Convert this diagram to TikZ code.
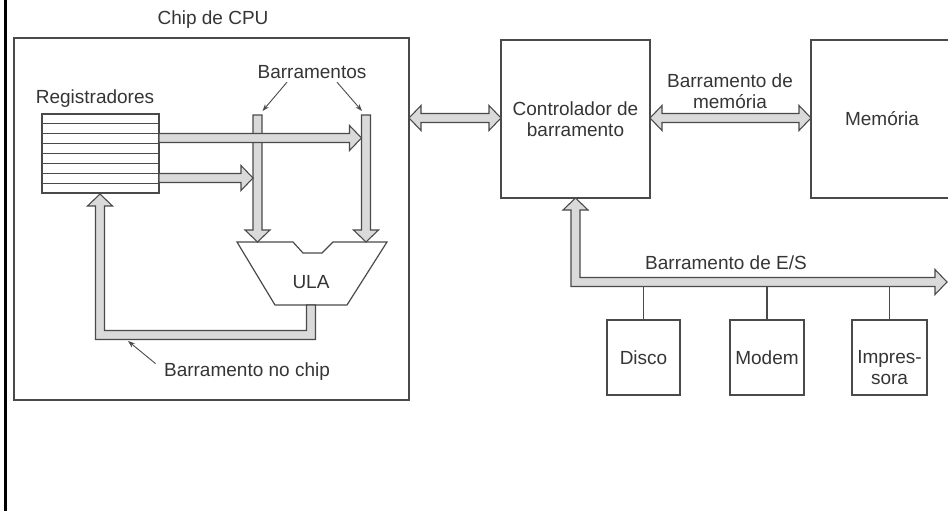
\documentclass[tikz,border=0pt]{standalone}
\usepackage{fontspec}
\setmainfont{Liberation Sans}
\usetikzlibrary{arrows.meta,calc}
\definecolor{ink}{HTML}{4A4A4A}
\definecolor{txt}{HTML}{353535}
\definecolor{busfill}{HTML}{DADADA}
\def\bsw{4.5pt}\def\bhw{12.5pt}\def\bhl{12pt}
% horizontal single arrow to the right (start #1, tip #2 at same height)
\newcommand\busR[2]{\filldraw[bus] let \p1=#1, \p2=#2 in
  (\x1,\y1+\bsw) -- (\x2-\bhl,\y1+\bsw) -- (\x2-\bhl,\y1+\bhw) -- (\x2,\y1)
  -- (\x2-\bhl,\y1-\bhw) -- (\x2-\bhl,\y1-\bsw) -- (\x1,\y1-\bsw) -- cycle;}
% vertical single arrow downwards (start #1, tip #2)
\newcommand\busD[2]{\filldraw[bus] let \p1=#1, \p2=#2 in
  (\x1-\bsw,\y1) -- (\x1-\bsw,\y2+\bhl) -- (\x1-\bhw,\y2+\bhl) -- (\x1,\y2)
  -- (\x1+\bhw,\y2+\bhl) -- (\x1+\bsw,\y2+\bhl) -- (\x1+\bsw,\y1) -- cycle;}
% horizontal double arrow (left tip #1, right tip #2)
\newcommand\busLR[2]{\filldraw[bus] let \p1=#1, \p2=#2 in
  (\x1,\y1) -- (\x1+\bhl,\y1+\bhw) -- (\x1+\bhl,\y1+\bsw) -- (\x2-\bhl,\y1+\bsw)
  -- (\x2-\bhl,\y1+\bhw) -- (\x2,\y1) -- (\x2-\bhl,\y1-\bhw) -- (\x2-\bhl,\y1-\bsw)
  -- (\x1+\bhl,\y1-\bsw) -- (\x1+\bhl,\y1-\bhw) -- cycle;}
\begin{document}
\begin{tikzpicture}[x=1pt,y=-1pt,
  every node/.style={font=\fontsize{19}{21}\selectfont, text=txt},
  box/.style={draw=ink, line width=1.2pt, inner sep=0pt, outer sep=0pt, anchor=north west, align=center},
  bus/.style={draw=ink, line width=1.1pt, fill=busfill, line join=miter},
  ptr/.style={draw=ink, line width=0.9pt, -{Stealth[length=7pt,width=5pt]}},
  wire/.style={draw=ink, line width=1.1pt},
  regline/.style={draw=ink, line width=1pt}]
\useasboundingbox (0,0) rectangle (948,511);
\fill[black] (4,0) rectangle (6.7,511);

% CPU chip
\node[box, minimum width=395pt, minimum height=362pt] (cpu) at (14,38) {};
\node (cpulab) at (213,20) {Chip de CPU};

% registers
\node[box, minimum width=117pt, minimum height=79pt] (reg) at (42,114) {};
\foreach \k in {1,...,7}
  \draw[regline] ($(reg.north west)+(0,\k*9.875)$) -- ($(reg.north east)+(0,\k*9.875)$);
\node (reglab) at (95,99) {Registradores};

% ULA
\filldraw[draw=ink, line width=1.2pt, fill=white]
  (237,242) -- (293,242) -- (303,253) -- (322,253) -- (333,242) -- (387,242)
  -- (347,305) -- (275,305) -- cycle;
\node (ula) at (311,282) {ULA};

% internal buses
\coordinate (busA) at (257.5,115);
\coordinate (busB) at (366,115);
\coordinate (ulaTop) at (311,242);
\busD{(busA)}{(busA |- ulaTop)}
\busD{(busB)}{(busB |- ulaTop)}
\busR{($(reg.north east)+(0,24)$)}{($(busB)+(-4.5,24)$)}
\busR{($(reg.north east)+(0,64)$)}{($(busA)+(-4.5,64)$)}

\node (barlab) at (312,72) {Barramentos};
\draw[ptr] ($(barlab.south)+(-25,0)$) -- ($(busA)+(5,-4)$);
\draw[ptr] ($(barlab.south)+(25,0)$) -- ($(busB)+(-4,-4)$);

% on-chip feedback bus
\coordinate (ulab) at (311,305);
\coordinate (fb) at (100,335);
\coordinate (regb) at (100,194);
\filldraw[bus] let \p1=(ulab), \p2=(regb), \p3=(fb) in
  (\x1-\bsw,\y1) -- (\x1-\bsw,\y3+\bsw) -- (\x2+\bsw,\y3+\bsw) -- (\x2+\bsw,\y2-\bhl)
  -- (\x2+\bhw,\y2-\bhl) -- (\x2,\y2) -- (\x2-\bhw,\y2-\bhl) -- (\x2-\bsw,\y2-\bhl)
  -- (\x2-\bsw,\y3-\bsw) -- (\x1+\bsw,\y3-\bsw) -- (\x1+\bsw,\y1) -- cycle;
\node (fblab) at (247,372) {Barramento no chip};
\draw[ptr] ($(fblab.north west)+(-5,4)$) -- (128,341);

% controller and memory
\node[box, minimum width=149pt, minimum height=158pt] (ctrl) at (501,40) {Controlador de\\barramento};
\node[box, minimum width=142pt, minimum height=158pt] (mem) at (811,40) {Memória};
\coordinate (r118) at (0,118);
\busLR{(cpu.east |- r118)}{(ctrl.west |- r118)}
\busLR{(ctrl.east |- r118)}{(mem.west |- r118)}
\node[align=center] (memlab) at (730,91) {Barramento de\\memória};

% I/O bus
\coordinate (iotip) at (947,282);
\filldraw[bus] let \p1=(ctrl.south), \p2=(iotip) in
  (\x1-\bsw,\y2-\bsw) -- (\x1-\bsw,\y1-\bhl) -- (\x1-\bhw,\y1-\bhl) -- (\x1,\y1)
  -- (\x1+\bhw,\y1-\bhl) -- (\x1+\bsw,\y1-\bhl) -- (\x1+\bsw,\y2+\bsw)
  -- (\x2-\bhl,\y2+\bsw) -- (\x2-\bhl,\y2+\bhw) -- (\x2,\y2) -- (\x2-\bhl,\y2-\bhw)
  -- (\x2-\bhl,\y2-\bsw) -- cycle;
\node (iolab) at (726,263) {Barramento de E/S};

% devices
\node[box, minimum width=73pt, minimum height=75pt] (disco) at (607,320) {Disco};
\node[box, minimum width=74pt, minimum height=75pt] (modem) at (730,320) {Modem};
\node[box, minimum width=75pt, minimum height=75pt] (impr) at (852,320) {};
\node[align=center] (imprlab) at ($(impr.center)+(0,10)$) {Impres-\\sora};
\coordinate (iob) at (0,286.5);
\draw[wire] (disco.north) -- (disco.north |- iob);
\draw[wire] (modem.north) -- (modem.north |- iob);
\draw[wire] (impr.north) -- (impr.north |- iob);
\end{tikzpicture}
\end{document}
